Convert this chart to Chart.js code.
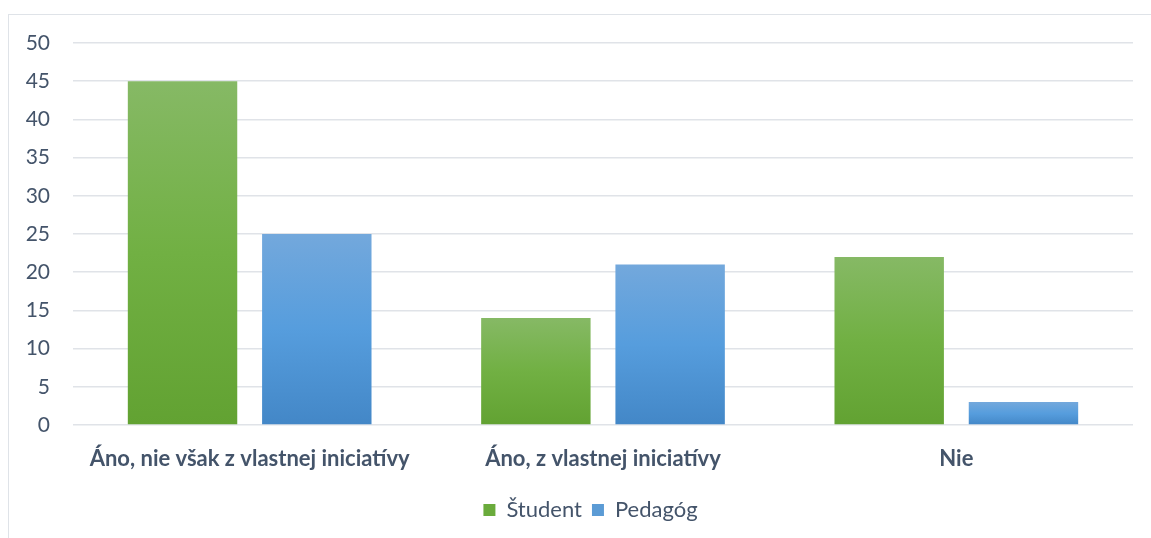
<!DOCTYPE html>
<html>
<head>
<meta charset="utf-8">
<script src="https://cdn.jsdelivr.net/npm/chart.js@4/dist/chart.umd.min.js"></script>
<style>
  html, body { margin: 0; padding: 0; background: #fff; }
  #frame { position: absolute; left: 8px; top: 14px; width: 1160px; height: 560px; border: 1px solid #dfe3e8; box-sizing: border-box; }
  #wrap { position: absolute; left: 0; top: 0; width: 1151px; height: 538px; }
</style>
</head>
<body>
<div id="frame"></div>
<div id="wrap"><canvas id="c"></canvas></div>
<script>
const categories = ["Áno, nie však z vlastnej iniciatívy", "Áno, z vlastnej iniciatívy", "Nie"];
const studentValues = [45, 14, 22];
const pedagogValues = [25, 21, 3];
const yTicks = [0, 5, 10, 15, 20, 25, 30, 35, 40, 45, 50];

const FONT = "Lato, 'Open Sans', sans-serif";
const TEXT = "#44546a";

function barGradient(mid, top, bottom) {
  return function (context) {
    const chart = context.chart;
    const y = chart.scales && chart.scales.y;
    if (!y || !chart.chartArea || context.raw === undefined) return bottom;
    const y0 = y.getPixelForValue(0);
    const y1 = y.getPixelForValue(context.raw);
    if (!isFinite(y0) || !isFinite(y1) || y0 === y1) return bottom;
    const g = chart.ctx.createLinearGradient(0, y1, 0, y0);
    g.addColorStop(0, top);
    g.addColorStop(0.5, mid);
    g.addColorStop(1, bottom);
    return g;
  };
}

const legendShift = {
  id: 'legendShift',
  afterLayout(chart) {
    if (chart.legend) { chart.legend.left += 24; chart.legend.right += 24; }
  }
};

new Chart(document.getElementById('c'), {
  type: 'bar',
  data: {
    labels: categories,
    datasets: [
      {
        label: 'Študent',
        data: studentValues,
        backgroundColor: barGradient('#71b043', '#86b965', '#62a232'),
        borderWidth: 0
      },
      {
        label: 'Pedagóg',
        data: pedagogValues,
        backgroundColor: barGradient('#569ddd', '#73a8dc', '#4387c7'),
        borderWidth: 0
      }
    ]
  },
  plugins: [legendShift],
  options: {
    responsive: true,
    maintainAspectRatio: false,
    animation: false,
    layout: { padding: { top: 43, right: 18, bottom: 7, left: 0 } },
    scales: {
      x: {
        grid: { display: false, drawTicks: false },
        border: { display: false },
        ticks: { color: TEXT, font: { family: FONT, size: 22, weight: 'bold' }, padding: 21, maxRotation: 0 },
        afterFit: (scale) => { scale.height = 64; }
      },
      y: {
        min: 0, max: 50,
        afterBuildTicks: (scale) => { scale.ticks = yTicks.map(v => ({ value: v })); },
        grid: { color: '#e0e3e8', lineWidth: 1.5, drawTicks: false },
        border: { display: false },
        ticks: { color: TEXT, font: { family: FONT, size: 21 }, padding: 23 },
        afterFit: (scale) => { scale.width = 73; }
      }
    },
    datasets: { bar: { categoryPercentage: 0.76, barPercentage: 0.815 } },
    plugins: {
      legend: {
        position: 'bottom',
        labels: { color: TEXT, font: { family: FONT, size: 22 }, boxWidth: 12, boxHeight: 12, padding: 10,
          generateLabels: (chart) => {
            const cols = ['#6aab3c', '#5b9bd5'];
            return chart.data.datasets.map((d, i) => ({ text: d.label, fillStyle: cols[i], strokeStyle: cols[i], lineWidth: 0, datasetIndex: i, fontColor: TEXT }));
          }
        }
      },
      tooltip: { enabled: false }
    }
  }
});
</script>
</body>
</html>
